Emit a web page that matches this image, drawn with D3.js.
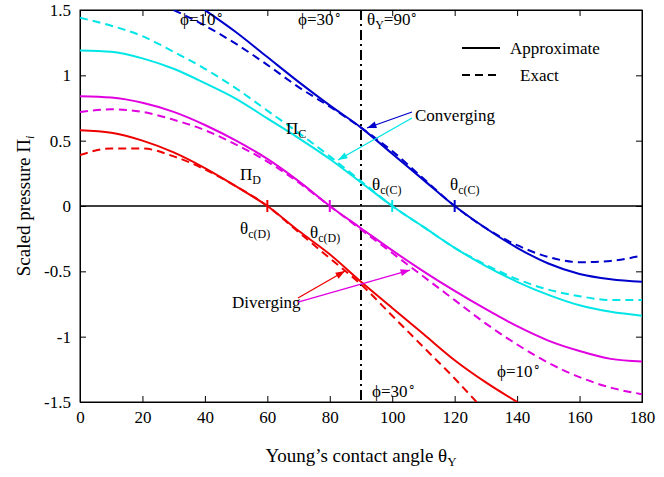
<!DOCTYPE html><html><head><meta charset="utf-8"><script src="https://cdn.jsdelivr.net/npm/d3@7"></script>
<style>body{margin:0;background:#fff}text{font-family:"Liberation Serif",serif;}</style></head><body><svg id="c" width="664" height="477"></svg><script>
const xTicks=[0,20,40,60,80,100,120,140,160,180];
const yTicks=[-1.5,-1,-0.5,0,0.5,1,1.5];
const blueApprox=[[40,1.5],[50,1.33],[60,1.14],[70,0.95],[80,0.77],[90,0.6],[100,0.4],[110,0.2],[120,0],[130,-0.17],[140,-0.32],[150,-0.44],[160,-0.52],[170,-0.56],[180,-0.58]];
const blueExact=[[30,1.5],[40,1.38],[50,1.24],[60,1.08],[70,0.91],[80,0.76],[90,0.6],[100,0.42],[110,0.21],[120,0],[130,-0.17],[140,-0.3],[150,-0.39],[160,-0.43],[170,-0.42],[180,-0.38]];
const cyanApprox=[[0,1.19],[10,1.18],[20,1.13],[30,1.05],[40,0.94],[50,0.82],[60,0.67],[70,0.52],[80,0.36],[90,0.18],[100,0],[110,-0.16],[120,-0.32],[130,-0.46],[140,-0.58],[150,-0.68],[160,-0.76],[170,-0.81],[180,-0.84]];
const cyanExact=[[0,1.44],[10,1.38],[20,1.3],[30,1.18],[40,1.05],[50,0.9],[60,0.73],[70,0.56],[80,0.38],[90,0.19],[100,0],[110,-0.16],[120,-0.32],[130,-0.45],[140,-0.56],[150,-0.64],[160,-0.69],[170,-0.72],[180,-0.72]];
const magApprox=[[0,0.84],[10,0.83],[20,0.79],[30,0.72],[40,0.62],[50,0.5],[60,0.36],[70,0.19],[80,0],[90,-0.17],[100,-0.34],[110,-0.5],[120,-0.65],[130,-0.79],[140,-0.92],[150,-1.03],[160,-1.11],[170,-1.17],[180,-1.19]];
const magExact=[[0,0.72],[10,0.74],[20,0.72],[30,0.66],[40,0.58],[50,0.47],[60,0.34],[70,0.18],[80,0],[90,-0.18],[100,-0.36],[110,-0.54],[120,-0.72],[130,-0.9],[140,-1.06],[150,-1.2],[160,-1.31],[170,-1.39],[180,-1.44]];
const redApprox=[[0,0.58],[10,0.56],[20,0.5],[30,0.41],[40,0.29],[50,0.15],[60,0],[70,-0.19],[80,-0.37],[90,-0.58],[100,-0.78],[110,-0.98],[120,-1.18],[130,-1.35],[140,-1.5]];
const redExact=[[0,0.39],[10,0.44],[20,0.44],[30,0.38],[40,0.28],[50,0.15],[60,0],[70,-0.2],[80,-0.4],[90,-0.6],[100,-0.84],[110,-1.08],[120,-1.32],[127,-1.5]];
const crossings=[[120,"#0000cc"],[100,"#00e5e5"],[80,"#e000e0"],[60,"#ee0000"]];

const svg=d3.select("#c");
const x=d3.scaleLinear().domain([0,180]).range([80,642]);
const y=d3.scaleLinear().domain([-1.5,1.5]).range([402,10]);
const defs=svg.append("defs");
defs.append("clipPath").attr("id","cp").append("rect").attr("x",80).attr("y",10).attr("width",562).attr("height",392);
const gx=svg.append("g").attr("transform","translate(0,402)").call(d3.axisBottom(x).tickValues(xTicks).tickSize(-6).tickPadding(9));
const gx2=svg.append("g").attr("transform","translate(0,10)").call(d3.axisTop(x).tickValues(xTicks).tickSize(-6).tickFormat(""));
const gy=svg.append("g").attr("transform","translate(80,0)").call(d3.axisLeft(y).tickValues(yTicks).tickSize(-6).tickPadding(9).tickFormat(d=>d));
const gy2=svg.append("g").attr("transform","translate(642,0)").call(d3.axisRight(y).tickValues(yTicks).tickSize(-6).tickFormat(""));
svg.selectAll(".tick text").attr("font-family","Liberation Serif").attr("font-size",17).attr("fill","#000");
svg.selectAll(".domain").attr("stroke","#000");
svg.append("rect").attr("x",80).attr("y",10).attr("width",562).attr("height",392).attr("fill","none").attr("stroke","#000");
svg.append("line").attr("x1",x(0)).attr("x2",x(180)).attr("y1",y(0)).attr("y2",y(0)).attr("stroke","#000").attr("stroke-width",1.3);
svg.append("line").attr("x1",x(90)).attr("x2",x(90)).attr("y1",y(1.5)).attr("y2",y(-1.5)).attr("stroke","#000").attr("stroke-width",2).attr("stroke-dasharray","10,4,2,4");
const line=d3.line().x(d=>x(d[0])).y(d=>y(d[1])).curve(d3.curveMonotoneX);
const pg=svg.append("g").attr("clip-path","url(#cp)");
[[blueExact,"#0000cc",1],[cyanExact,"#00e5e5",1],[magExact,"#e000e0",1],[redExact,"#ee0000",1],
 [blueApprox,"#0000cc",0],[cyanApprox,"#00e5e5",0],[magApprox,"#e000e0",0],[redApprox,"#ee0000",0]].forEach(([d,c,dash])=>{
 pg.append("path").datum(d).attr("d",line).attr("fill","none").attr("stroke",c).attr("stroke-width",2).attr("stroke-dasharray",dash?"8,5":null);
});
crossings.forEach(([v,c])=>svg.append("line").attr("x1",x(v)).attr("x2",x(v)).attr("y1",y(0)-6).attr("y2",y(0)+6).attr("stroke",c).attr("stroke-width",2));
// legend
svg.append("line").attr("x1",462).attr("x2",500).attr("y1",48).attr("y2",48).attr("stroke","#000").attr("stroke-width",2);
svg.append("line").attr("x1",462).attr("x2",500).attr("y1",75).attr("y2",75).attr("stroke","#000").attr("stroke-width",2).attr("stroke-dasharray","8,5");
const T=(tx,ty,s,fs=17,c="#000",anchor="start")=>svg.append("text").attr("x",tx).attr("y",ty).attr("font-size",fs).attr("fill",c).attr("text-anchor",anchor).html(s);
T(510,54,"Approximate");T(520,81,"Exact");
T(180,25,"ϕ=10<tspan dy='-6' font-size='12'>∘</tspan>");
T(298,25,"ϕ=30<tspan dy='-6' font-size='12'>∘</tspan>");
T(367,25,"θ<tspan dy='4' font-size='12'>Y</tspan><tspan dy='-4'>=90</tspan><tspan dy='-6' font-size='12'>∘</tspan>");
T(372,397,"ϕ=30<tspan dy='-6' font-size='12'>∘</tspan>");
T(497,377,"ϕ=10<tspan dy='-6' font-size='12'>∘</tspan>");
T(286,134,"Π<tspan dy='4' font-size='12'>C</tspan>");
T(240,180,"Π<tspan dy='4' font-size='12'>D</tspan>");
T(372,190,"θ<tspan dy='4' font-size='12'>c(C)</tspan>");
T(450,190,"θ<tspan dy='4' font-size='12'>c(C)</tspan>");
T(240,234,"θ<tspan dy='4' font-size='12'>c(D)</tspan>");
T(310,238,"θ<tspan dy='4' font-size='12'>c(D)</tspan>");
T(415,121,"Converging");T(232,308,"Diverging");
const arrow=(x1,y1,x2,y2,c)=>{
 svg.append("line").attr("x1",x1).attr("y1",y1).attr("x2",x2).attr("y2",y2).attr("stroke",c).attr("stroke-width",1.3);
 const a=Math.atan2(y2-y1,x2-x1),L=10,w=0.35;
 svg.append("path").attr("d",`M${x2},${y2}L${x2-L*Math.cos(a-w)},${y2-L*Math.sin(a-w)}L${x2-L*Math.cos(a+w)},${y2-L*Math.sin(a+w)}Z`).attr("fill",c);
};
arrow(412,112,367,128,"#0000cc");arrow(412,118,338,160,"#00e5e5");
arrow(298,298,345,271,"#ee0000");arrow(298,302,410,270,"#e000e0");
T(30,206,"Scaled pressure Π<tspan dy='4' font-size='12' font-style='italic'>i</tspan>",19,"#000","middle").attr("transform","rotate(-90,30,206)");
T(361,462,"Young’s contact angle   θ<tspan dy='4' font-size='13'>Y</tspan>",19,"#000","middle");
</script></body></html>
